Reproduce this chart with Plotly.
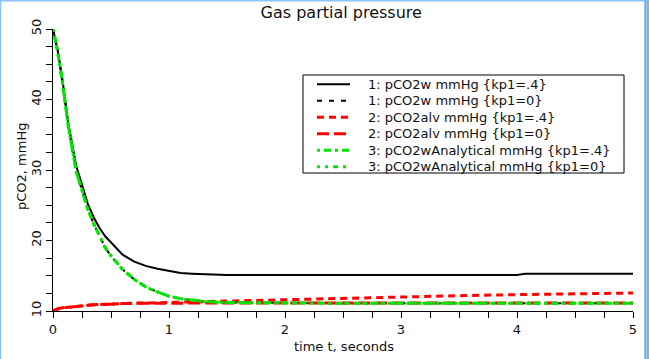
import plotly.graph_objects as go

# ---- data ----
t = [0, 0.04, 0.08, 0.13, 0.2, 0.25, 0.3, 0.35, 0.4, 0.45, 0.5, 0.55, 0.6, 0.7, 0.8,
     0.9, 1.0, 1.1, 1.2, 1.3, 1.5, 2.0, 2.5, 3.0, 3.5, 4.0, 4.07, 4.5, 5.0]

pco2w_kp04 = [50, 47.0, 43.0, 36.8, 30.6, 27.8, 25.2, 23.3, 21.8, 20.6, 19.7, 18.8, 18.0,
              17.0, 16.4, 16.0, 15.7, 15.4, 15.3, 15.2, 15.1, 15.1, 15.1, 15.1, 15.1,
              15.1, 15.3, 15.3, 15.3]

pco2w_kp0 = [50, 46.8, 42.6, 36.4, 29.8, 27.0, 24.4, 22.4, 20.6, 19.0, 17.8, 16.8, 15.9,
             14.5, 13.4, 12.7, 12.1, 11.75, 11.5, 11.35, 11.2, 11.1, 11.1, 11.1, 11.1,
             11.1, 11.1, 11.1, 11.1]

pco2alv_kp04 = [10.0, 10.3, 10.45, 10.55, 10.65, 10.72, 10.8, 10.88, 10.93, 10.98, 11.0,
                11.03, 11.06, 11.1, 11.14, 11.17, 11.2, 11.25, 11.3, 11.35, 11.45, 11.65,
                11.82, 12.0, 12.17, 12.32, 12.34, 12.45, 12.55]

pco2alv_kp0 = [10.0, 10.3, 10.45, 10.55, 10.65, 10.72, 10.8, 10.88, 10.93, 10.98, 11.0,
               11.03, 11.05, 11.08, 11.1, 11.12, 11.13, 11.14, 11.15, 11.15, 11.15, 11.15,
               11.15, 11.15, 11.15, 11.15, 11.15, 11.15, 11.15]

pco2w_analytical_kp04 = pco2w_kp0
pco2w_analytical_kp0 = pco2w_kp0

names = ["1: pCO2w mmHg {kp1=.4}", "1: pCO2w mmHg {kp1=0}",
         "2: pCO2alv mmHg {kp1=.4}", "2: pCO2alv mmHg {kp1=0}",
         "3: pCO2wAnalytical mmHg {kp1=.4}", "3: pCO2wAnalytical mmHg {kp1=0}"]
series = [pco2w_kp04, pco2w_kp0, pco2alv_kp04, pco2alv_kp0,
          pco2w_analytical_kp04, pco2w_analytical_kp0]

title_text = "Gas partial pressure"
x_title = "time t, seconds"
y_title = "pCO2, mmHg"

styles = [
    dict(color="black", width=2, dash="solid"),
    dict(color="black", width=2, dash="5px,7px"),
    dict(color="#ff0000", width=3, dash="7px,5px"),
    dict(color="#ff0000", width=3, dash="12px,5px"),
    dict(color="#00e600", width=3, dash="3px,4px,7px,4px"),
    dict(color="#00e600", width=3, dash="3px,5px,3px,5px,5px,5px"),
]

W, H = 651, 359
L, R, T, B = 53, 18, 29, 48
PW, PH = W - L - R, H - T - B

fig = go.Figure()
for n, y, s in zip(names, series, styles):
    fig.add_trace(go.Scatter(x=t, y=y, mode="lines", name=n, line=s,
                             showlegend=False, line_shape="linear", hoverinfo="skip"))


def px2paper(px, py):
    return (px - L) / PW, 1 - (py - T) / PH


txt_color = "#111"
shapes = []
annotations = []
# legend box
x0, y0 = px2paper(303, 75)
x1, y1 = px2paper(624, 173)
shapes.append(dict(type="rect", xref="paper", yref="paper", x0=x0, y0=y1, x1=x1, y1=y0,
                   line=dict(color="black", width=1), fillcolor="white", layer="above"))
for i, (n, s) in enumerate(zip(names, styles)):
    cy = 84.3 + i * 16.5
    ax0, ay = px2paper(317, cy)
    ax1, _ = px2paper(350, cy)
    shapes.append(dict(type="line", xref="paper", yref="paper", x0=ax0, x1=ax1, y0=ay, y1=ay,
                       line=dict(color=s["color"], width=s["width"], dash=s["dash"]),
                       layer="above"))
    tx, _ = px2paper(366, cy)
    annotations.append(dict(xref="paper", yref="paper", x=tx, y=ay, text=n, showarrow=False,
                            xanchor="left", yanchor="middle",
                            font=dict(family="DejaVu Sans", size=13, color=txt_color)))

# axis titles
xtx, xty = px2paper(344, 346)
annotations.append(dict(xref="paper", yref="paper", x=xtx, y=xty, text=x_title,
                        showarrow=False, xanchor="center", yanchor="middle",
                        font=dict(family="DejaVu Sans", size=13, color=txt_color)))
ytx, yty = px2paper(22, 167)
annotations.append(dict(xref="paper", yref="paper", x=ytx, y=yty, text=y_title,
                        showarrow=False, xanchor="center", yanchor="middle", textangle=-90,
                        font=dict(family="DejaVu Sans", size=13, color=txt_color)))

# window border lines
shapes.append(dict(type="line", xref="paper", yref="paper",
                   x0=px2paper(0.5, 0)[0], x1=px2paper(0.5, 0)[0],
                   y0=px2paper(0, 0)[1], y1=px2paper(0, H)[1],
                   line=dict(color="#8cc4f6", width=1.5), layer="above"))
shapes.append(dict(type="line", xref="paper", yref="paper",
                   x0=px2paper(0, 0.5)[0], x1=px2paper(645, 0.5)[0],
                   y0=px2paper(0, 0.7)[1], y1=px2paper(0, 0.7)[1],
                   line=dict(color="#8cc4f6", width=1.5), layer="above"))
shapes.append(dict(type="line", xref="paper", yref="paper",
                   x0=px2paper(645.5, 0)[0], x1=px2paper(645.5, 0)[0],
                   y0=px2paper(0, 0)[1], y1=px2paper(0, H)[1],
                   line=dict(color="#6fb3f2", width=2.5), layer="above"))
shapes.append(dict(type="line", xref="paper", yref="paper",
                   x0=px2paper(648, 0)[0], x1=px2paper(648, 0)[0],
                   y0=px2paper(0, 0)[1], y1=px2paper(0, H)[1],
                   line=dict(color="#555555", width=1), layer="above"))

axis_font = dict(family="DejaVu Sans", size=13, color=txt_color)
fig.update_layout(
    width=W, height=H,
    margin=dict(l=L, r=R, t=T, b=B, pad=0, autoexpand=False),
    paper_bgcolor="white", plot_bgcolor="white",
    hovermode=False,
    title=dict(text=title_text, x=323.5 / W, xref="paper", xanchor="center",
               y=1 - 12.5 / H, yanchor="middle",
               font=dict(family="DejaVu Sans", size=16, color=txt_color)),
    xaxis=dict(range=[0, 5], tickvals=[0, 1, 2, 3, 4, 5], ticks="outside", ticklen=6,
               tickcolor="black", showline=True, linecolor="black", linewidth=1,
               showgrid=False, zeroline=False, tickfont=axis_font, automargin=False,
               minor=dict(dtick=0.25, tick0=0, ticks="outside", ticklen=6,
                          tickcolor="black", showgrid=False)),
    yaxis=dict(range=[10, 50], tickvals=[10, 20, 30, 40, 50], ticks="outside", ticklen=6,
               tickcolor="black", showline=True, linecolor="black", linewidth=1,
               showgrid=False, zeroline=False, tickfont=axis_font, tickangle=-90,
               automargin=False,
               minor=dict(dtick=2.5, tick0=10, ticks="outside", ticklen=6,
                          tickcolor="black", showgrid=False)),
    shapes=shapes, annotations=annotations,
)

fig.write_html("out.html", config={"displayModeBar": False},
               post_script="document.body.style.margin='0px';"
                           "document.body.style.overflow='hidden';")
